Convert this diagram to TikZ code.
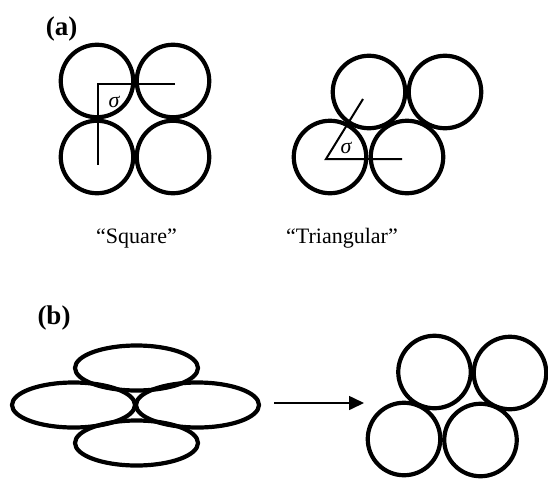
\documentclass[tikz,border=0pt]{standalone}
\usepackage{fontspec}
\setmainfont{Liberation Serif}
\usetikzlibrary{shapes.geometric,arrows.meta}
\tikzset{
  ball/.style={circle,draw,line width=4.2pt,minimum size=72.5pt,inner sep=0pt},
  blob/.style={ellipse,draw,line width=4.2pt,minimum width=123pt,minimum height=45pt,inner sep=0pt},
  guide/.style={line width=2pt},
  lbl/.style={font=\fontsize{22}{24}\selectfont,anchor=base,inner sep=0pt},
  panel/.style={font=\fontsize{27}{30}\selectfont\bfseries,anchor=base,inner sep=0pt},
  sig/.style={font=\fontsize{22}{24}\selectfont\itshape,inner sep=0pt}
}
\begin{document}
\begin{tikzpicture}[x=1pt,y=-1pt]
\useasboundingbox (0,0) rectangle (548,479);
% panel labels
\node[panel] (pa) at (61.5,35) {(a)};
\node[panel] (pb) at (54,324) {(b)};
% square packing
\node[ball] (s1) at (97,81) {};
\node[ball] (s2) at (173,81) {};
\node[ball] (s3) at (97,157) {};
\node[ball] (s4) at (173,157) {};
\coordinate (sc) at (98,84);
\coordinate (sr) at (175,84);
\coordinate (sd) at (98,165);
\draw[guide] (sr) -- (sc) -- (sd);
\node[sig] (sgs) at (114,102) {σ};
\node[lbl] (sq) at (136.5,243) {“Square”};
% triangular packing
\node[ball] (t1) at (369,92) {};
\node[ball] (t2) at (445,92) {};
\node[ball] (t3) at (330,157) {};
\node[ball] (t4) at (407,157) {};
\coordinate (tc) at (326,159);
\coordinate (tr) at (402,159);
\coordinate (tu) at (363,99);
\draw[guide] (tr) -- (tc) -- (tu);
\node[sig] (sgt) at (346,148) {σ};
\node[lbl] (tri) at (342,243) {“Triangular”};
% (b) ellipses
\node[blob] (e1) at (136.5,368) {};
\node[blob] (e2) at (73.5,405) {};
\node[blob] (e3) at (197.5,405) {};
\node[blob] (e4) at (136.5,443) {};
% arrow
\coordinate (a1) at (274,403);
\coordinate (a2) at (364,403);
\draw[line width=1.6pt,-{Triangle[length=15pt,width=14pt]}] (a1) -- (a2);
% (b) circles
\node[ball] (c1) at (434.5,372) {};
\node[ball] (c2) at (510,373) {};
\node[ball] (c3) at (404,439) {};
\node[ball] (c4) at (480.5,440) {};
\end{tikzpicture}
\end{document}
